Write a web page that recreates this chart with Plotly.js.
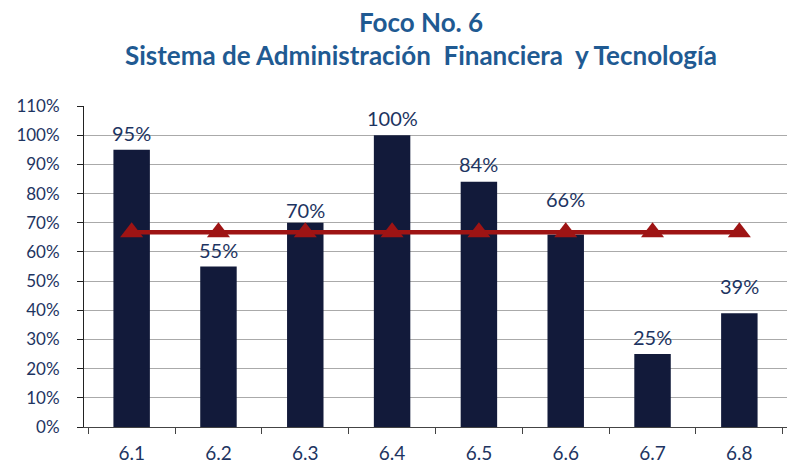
<!DOCTYPE html>
<html>
<head>
<meta charset="utf-8">
<script src="https://cdn.plot.ly/plotly-3.0.1.min.js"></script>
<style>html,body{margin:0;padding:0;background:#fff;}#chart{width:787px;height:466px;}</style>
</head>
<body>
<div id="chart"></div>
<script>
const categories = ["6.1", "6.2", "6.3", "6.4", "6.5", "6.6", "6.7", "6.8"];
const values = [0.95, 0.55, 0.70, 1.00, 0.84, 0.66, 0.25, 0.39];
const average = [0.6675, 0.6675, 0.6675, 0.6675, 0.6675, 0.6675, 0.6675, 0.6675];
const yTicks = [0, 0.1, 0.2, 0.3, 0.4, 0.5, 0.6, 0.7, 0.8, 0.9, 1.0, 1.1];
const titleLines = ["Foco No. 6", "Sistema de Administración  Financiera  y Tecnología"];
const labelShift = [12, 12, 8, 12, 13, 30, 12, 22];

const navy = "#121a3a";
const textNavy = "#1d3461";
const font = "Lato, 'Open Sans', sans-serif";

const bars = {
  type: "bar",
  x: categories,
  y: values,
  marker: {color: navy},
  width: 0.42,
  hoverinfo: "skip",
  showlegend: false
};
const line = {
  type: "scatter",
  mode: "lines+markers",
  x: categories,
  y: average,
  line: {color: "#9e1414", width: 4.5},
  marker: {symbol: "triangle-up", size: 20, color: "#9e1414"},
  showlegend: false,
  hoverinfo: "skip"
};

const annotations = categories.map((c, i) => ({
  x: i, y: values[i], xref: "x", yref: "y",
  text: Math.round(values[i] * 100) + "%",
  showarrow: false, yanchor: "bottom", yshift: labelShift[i] - 9,
  font: {family: font, size: 20, color: textNavy}
}));
const titleY = [1.262, 1.159];
titleLines.forEach((t, i) => annotations.push({
  x: 0.48, y: titleY[i], xref: "paper", yref: "paper",
  xanchor: "center", yanchor: "middle", showarrow: false,
  text: "<b>" + t + "</b>",
  font: {family: font, size: 26, color: "#1f5a92"}
}));

const layout = {
  width: 787, height: 466,
  margin: {l: 84, r: 0, t: 106, b: 39},
  paper_bgcolor: "#fff", plot_bgcolor: "#fff",
  xaxis: {
    type: "category",
    showline: true, linecolor: "#444", linewidth: 1,
    ticks: "outside", tickson: "boundaries", ticklen: 6, tickcolor: "#444",
    tickfont: {family: font, size: 19, color: textNavy},
    ticklabelstandoff: 9,
    showgrid: false, fixedrange: true
  },
  yaxis: {
    range: [0, 1.1], tickvals: yTicks, tickformat: ".0%",
    showline: true, linecolor: "#222", linewidth: 1,
    ticks: "outside", ticklen: 6, tickcolor: "#222",
    tickfont: {family: font, size: 17, color: textNavy},
    ticklabelstandoff: 14,
    showgrid: true, gridcolor: "#aaaaaa", gridwidth: 1,
    zeroline: false, fixedrange: true
  },
  annotations: annotations
};

Plotly.newPlot("chart", [bars, line], layout, {displayModeBar: false, staticPlot: true});
</script>
</body>
</html>
